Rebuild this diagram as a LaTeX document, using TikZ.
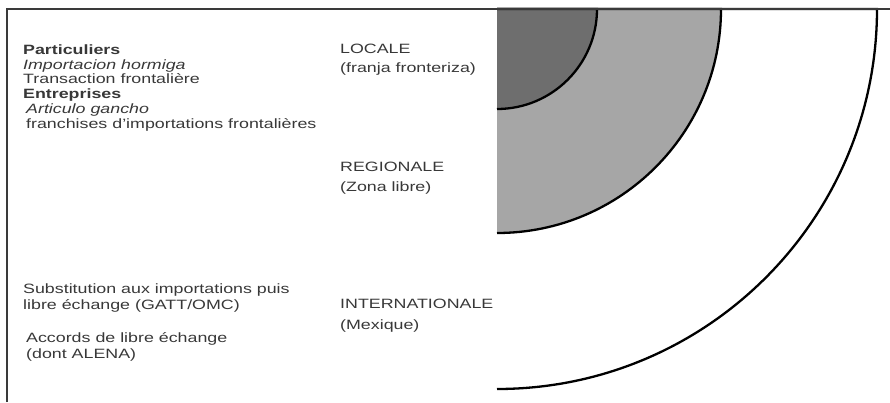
\documentclass[tikz,border=0pt]{standalone}
\usepackage{fontspec}
\setmainfont[FakeStretch=1.32]{Liberation Sans}
\definecolor{innergray}{HTML}{6E6E6E}
\definecolor{midgray}{HTML}{A6A6A6}
\definecolor{txtgray}{HTML}{383838}
\definecolor{framegray}{HTML}{3A3A3A}
\tikzset{
  lbl/.style={anchor=base west, inner sep=0pt, text=txtgray, font=\fontsize{13.5bp}{15bp}\selectfont},
  ring/.style={draw=black, line width=2.3bp},
  framel/.style={draw=framegray, line width=1.2bp}
}
\begin{document}
\begin{tikzpicture}[x=1bp,y=1bp]
\useasboundingbox (0,0) rectangle (890,402);
% quadrant rings (centre at top of the frame)
\coordinate (c) at (497,393);
\draw[ring, fill=white] (c) -- (877,393) arc[start angle=0, end angle=-90, radius=380bp];
\draw[ring, fill=midgray] (c) -- (721,393) arc[start angle=0, end angle=-90, radius=224bp];
\draw[ring, fill=innergray] (c) -- (597,393) arc[start angle=0, end angle=-90, radius=100bp];
% frame
\coordinate (fbl) at (7,0);
\coordinate (ftl) at (7,393);
\coordinate (ftr) at (890,393);
\draw[framel] (fbl) -- (ftl) -- (ftr);
% left top block
\node[lbl] (p1) at (23,348) {\textbf{Particuliers}};
\node[lbl] (p2) at (23,333) {\textit{Importacion hormiga}};
\node[lbl] (p3) at (23,319) {Transaction frontalière};
\node[lbl] (e1) at (23,304) {\textbf{Entreprises}};
\node[lbl] (e2) at (26,289) {\textit{Articulo gancho}};
\node[lbl] (e3) at (26,274) {franchises d'importations frontalières};
% left bottom block
\node[lbl] (s1) at (23,109) {Substitution aux importations puis};
\node[lbl] (s2) at (23,93) {libre échange (GATT/OMC)};
\node[lbl] (a1) at (26,60) {Accords de libre échange};
\node[lbl] (a2) at (26,44) {(dont ALENA)};
% middle labels
\node[lbl] (loc1) at (340,349) {LOCALE};
\node[lbl] (loc2) at (340,330) {(franja fronteriza)};
\node[lbl] (reg1) at (340,231) {REGIONALE};
\node[lbl] (reg2) at (340,211) {(Zona libre)};
\node[lbl] (int1) at (340,94) {INTERNATIONALE};
\node[lbl] (int2) at (340,73) {(Mexique)};
\end{tikzpicture}
\end{document}
